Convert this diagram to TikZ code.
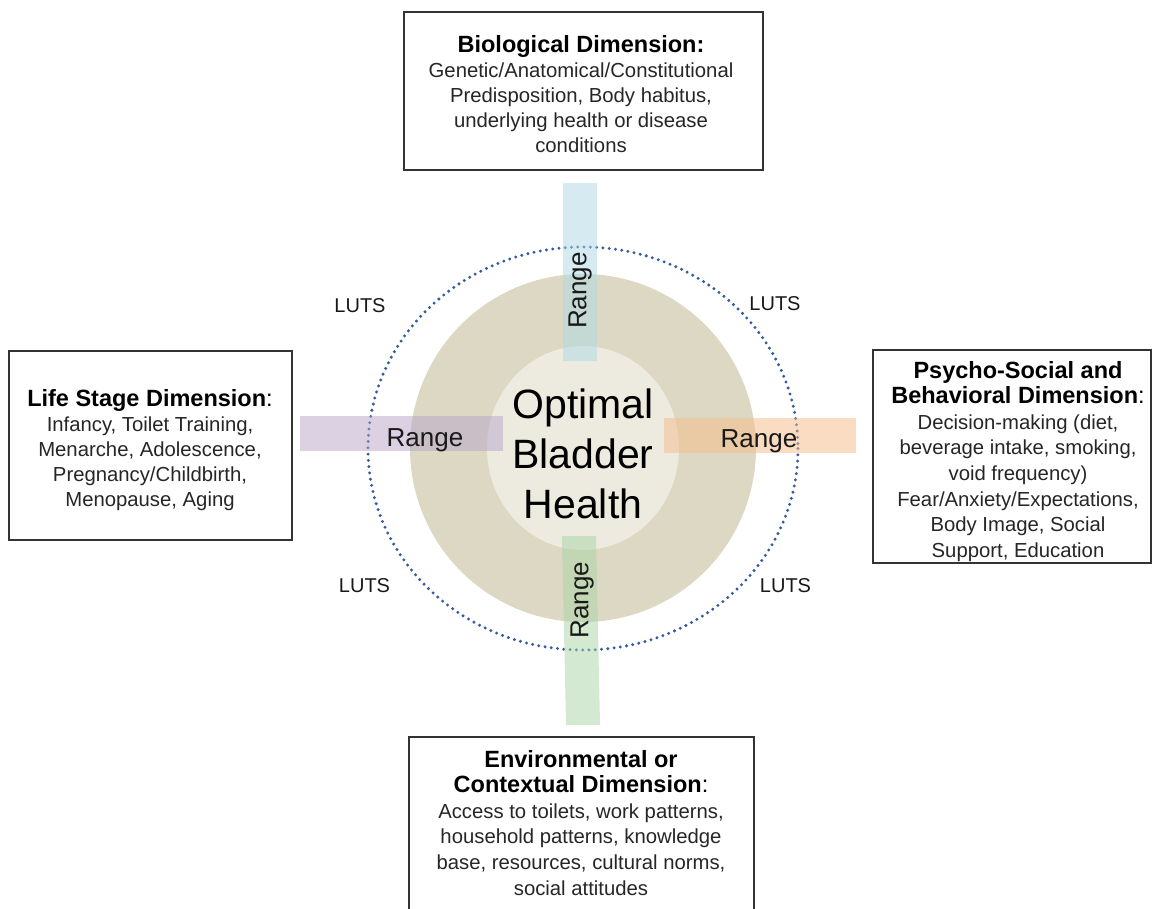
\documentclass[tikz,border=0pt]{standalone}
\usepackage{fontspec}
\setmainfont{Liberation Sans}
\definecolor{ringtan}{RGB}{221,216,195}
\definecolor{coretan}{RGB}{237,235,224}
\definecolor{dotblue}{RGB}{55,92,158}
\definecolor{barblue}{RGB}{173,217,229}
\definecolor{barpurple}{RGB}{185,165,201}
\definecolor{barorange}{RGB}{247,187,137}
\definecolor{bargreen}{RGB}{169,213,165}
\newcommand\dimhead[1]{{\fontsize{23.5}{24.7}\selectfont\color{black}#1}}
\begin{document}
\begin{tikzpicture}[x=1pt,y=-1pt,
  panel/.style={draw=black!80, line width=1.6pt, fill=white, rectangle, inner sep=0pt},
  desc/.style={align=center, inner sep=0pt, anchor=north, text=black!85,
    font=\fontsize{20.3}{24.9}\selectfont},
  loose/.style={font=\fontsize{20.3}{25.6}\selectfont},
  rangelbl/.style={inner sep=0pt, text=black!90, font=\fontsize{26}{30}\selectfont},
  luts/.style={inner sep=0pt, text=black!90, font=\fontsize{20}{24}\selectfont},
  bar/.style={fill opacity=0.5},
]
\clip (0,0) rectangle (1153,909);
\fill[white] (0,0) rectangle (1153,909);

% dimension panels
\node[panel, minimum width=359, minimum height=158] (bio) at (583.5,91) {};
\node[panel, minimum width=283, minimum height=189] (life) at (150.5,445.5) {};
\node[panel, minimum width=278, minimum height=213] (psy) at (1012,456.5) {};
\node[panel, minimum width=345, minimum height=203] (env) at (581.5,838.5) {};

\node[desc] (biotext) at (581,35.5)
  {\dimhead{\bfseries Biological Dimension:}\\
   Genetic/Anatomical/Constitutional\\
   Predisposition, Body habitus,\\
   underlying health or disease\\
   conditions};
\node[desc, font=\fontsize{20.3}{25.2}\selectfont] (lifetext) at (150,388.8)
  {\dimhead{{\bfseries Life Stage Dimension}:}\\
   Infancy, Toilet Training,\\
   Menarche, Adolescence,\\
   Pregnancy/Childbirth,\\
   Menopause, Aging};
\node[desc, loose] (psytext) at (1018,360.8)
  {\dimhead{\bfseries Psycho-Social and}\\
   \dimhead{{\bfseries Behavioral Dimension}:}\\
   Decision-making (diet,\\
   beverage intake, smoking,\\
   void frequency)\\
   Fear/Anxiety/Expectations,\\
   Body Image, Social\\
   Support, Education};
\node[desc, loose] (envtext) at (581,749.8)
  {\dimhead{\bfseries Environmental or}\\
   \dimhead{{\bfseries Contextual Dimension}:}\\
   Access to toilets, work patterns,\\
   household patterns, knowledge\\
   base, resources, cultural norms,\\
   social attitudes};

% central rings
\fill[ringtan] (583,448) ellipse [x radius=173, y radius=174];
\fill[coretan] (583,448) ellipse [x radius=96, y radius=102];
\draw[dotblue, line width=3.3pt, line cap=round, dash pattern=on 0pt off 6.3pt]
  (583,448.5) ellipse [x radius=215, y radius=201.5];

% range bars
\fill[barblue, bar] (563,183) rectangle (597,361);
\fill[barpurple, bar] (300,416) rectangle (503,451);
\fill[barorange, bar] (664,418) rectangle (856,453);
\fill[bargreen, bar] (562,536) -- (596,536) -- (600,725) -- (566,725) -- cycle;

\node[rangelbl, rotate=90] (rtop) at (580,290.5) {Range};
\node[rangelbl] (rleft) at (425,440) {Range};
\node[rangelbl] (rright) at (759,441) {Range};
\node[rangelbl, rotate=90] (rbottom) at (582,600) {Range};

\node[align=center, inner sep=0pt, font=\fontsize{41}{50}\selectfont] (core)
  at (583,454) {Optimal\\Bladder\\Health};

\node[luts] (lutsnw) at (360,306) {LUTS};
\node[luts] (lutsne) at (775,304) {LUTS};
\node[luts] (lutssw) at (364.5,586) {LUTS};
\node[luts] (lutsse) at (785.5,586) {LUTS};
\end{tikzpicture}
\end{document}
